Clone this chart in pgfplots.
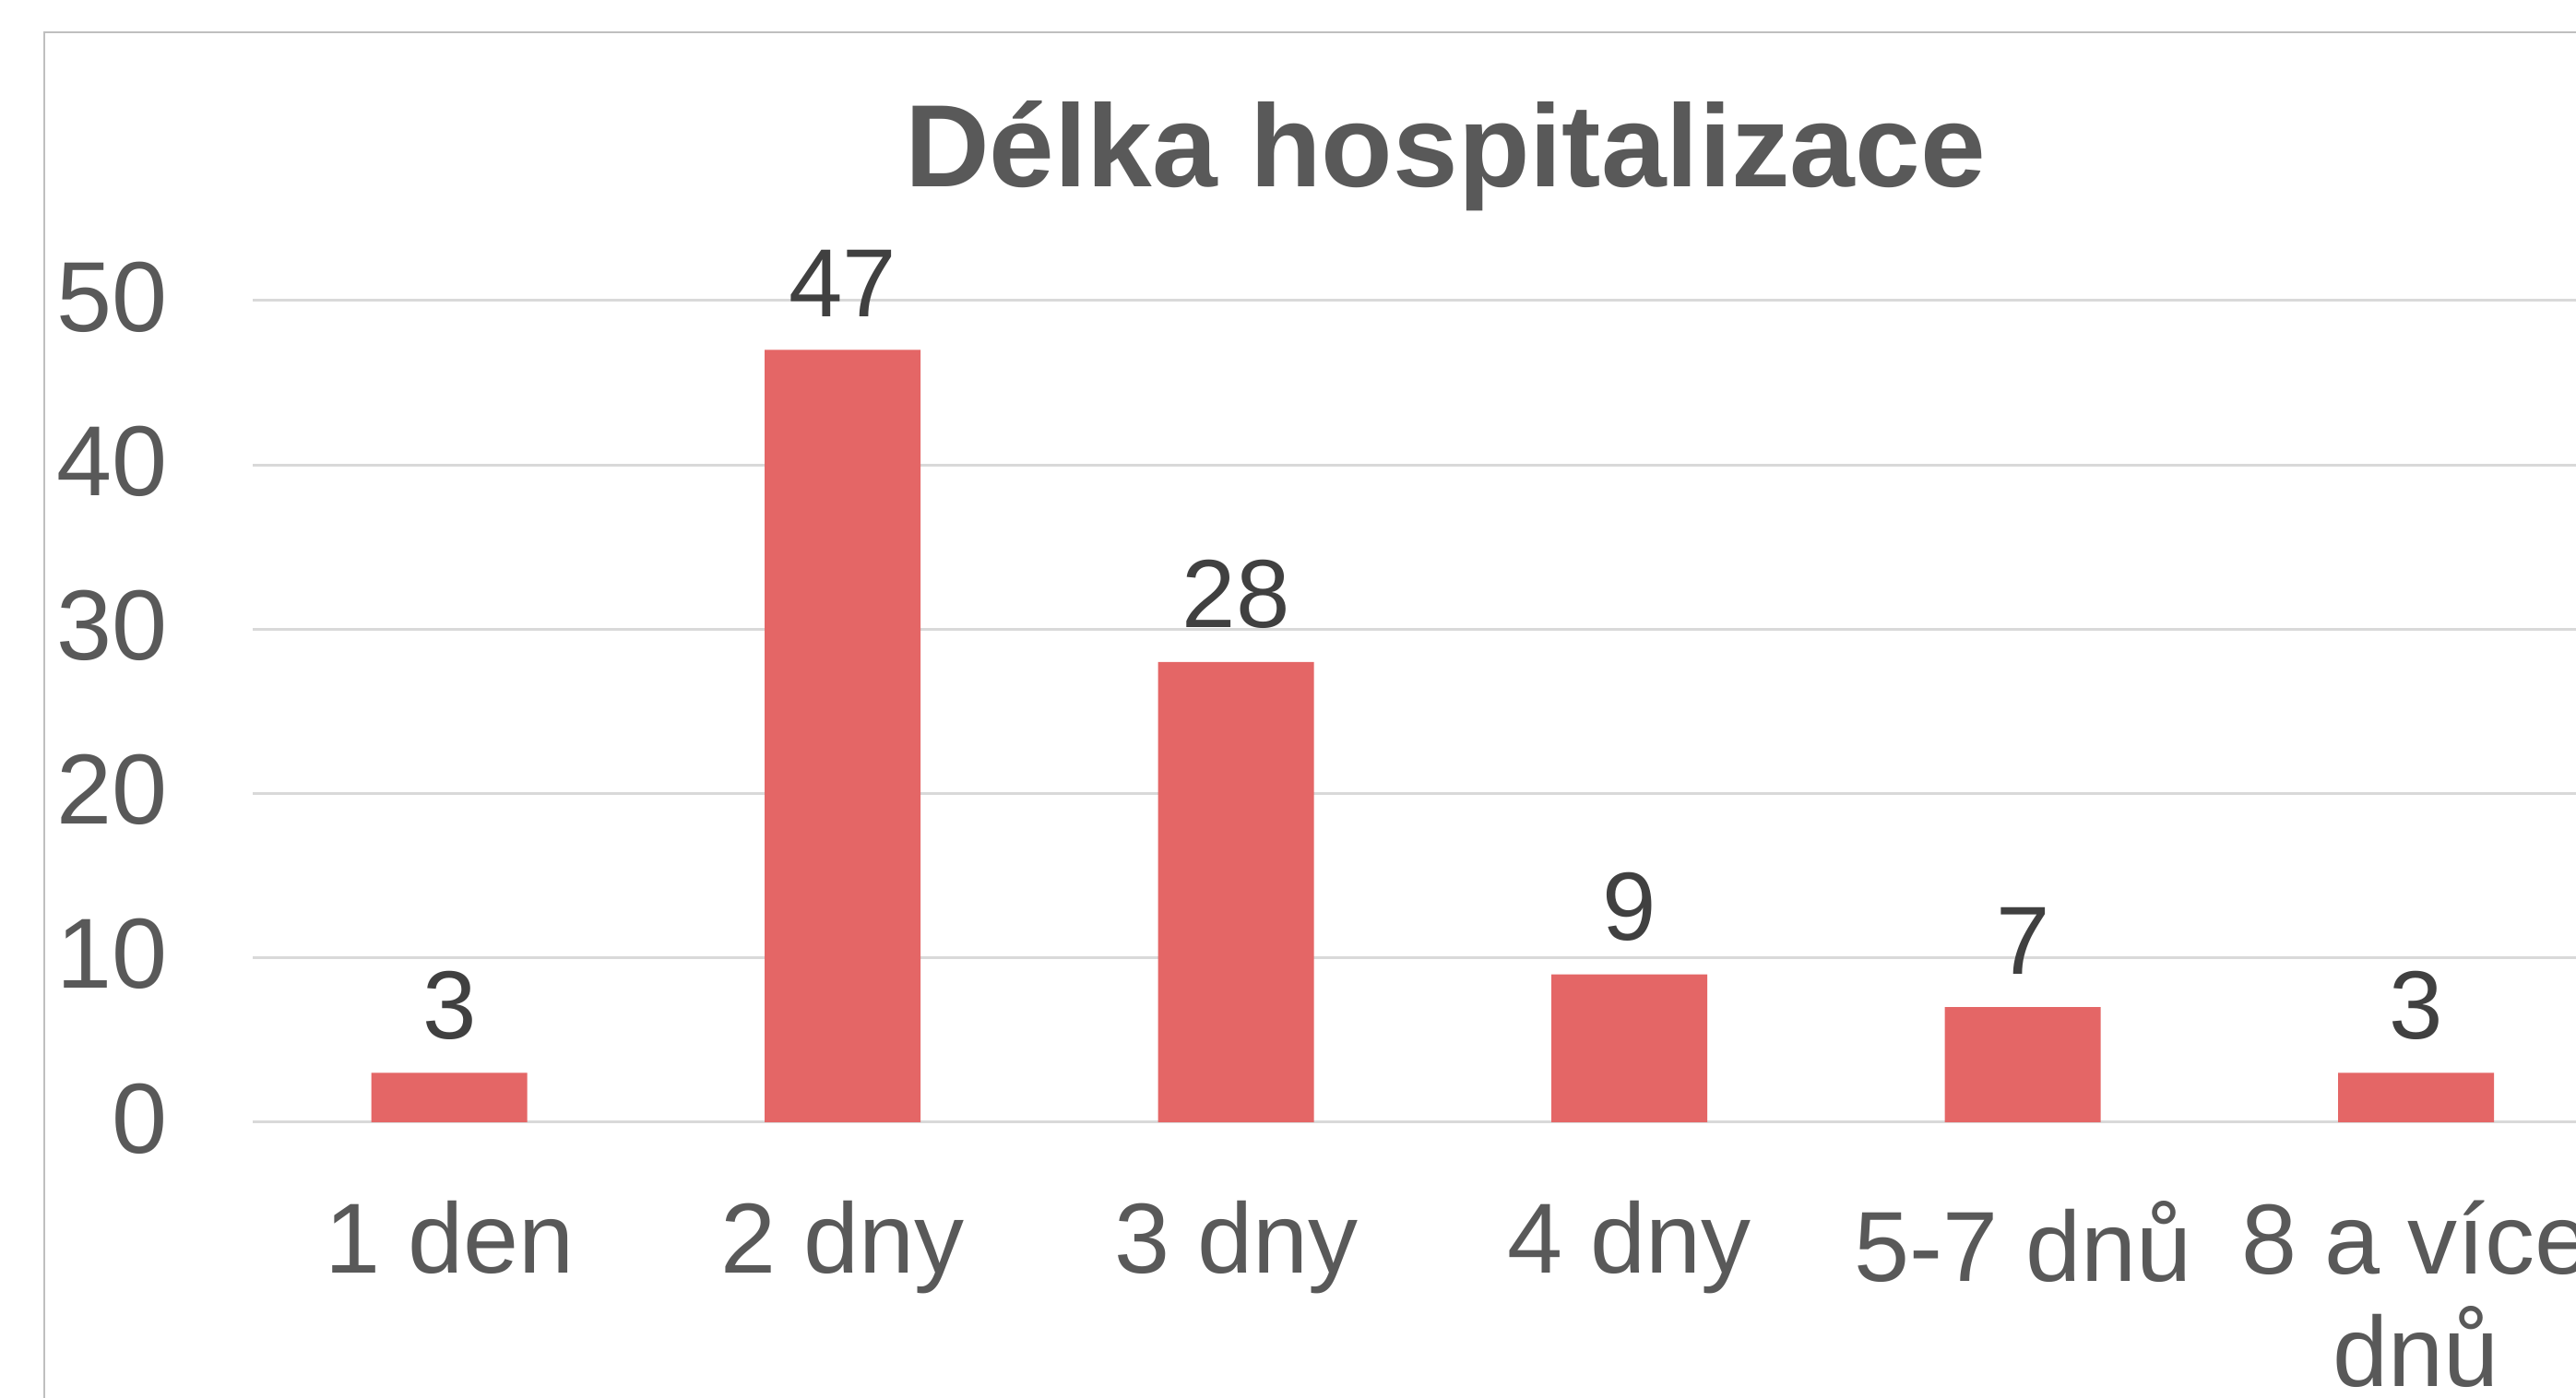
\documentclass[border=0pt]{standalone}
\usepackage{pgfplots}
\pgfplotsset{compat=1.18}
\usepackage{fontspec}
\setmainfont{Liberation Sans}
\definecolor{barred}{RGB}{228,102,102}
\definecolor{txtgray}{RGB}{89,89,89}
\definecolor{lblgray}{RGB}{64,64,64}
\definecolor{gridgray}{RGB}{217,217,217}
\definecolor{bordergray}{RGB}{191,191,191}
\begin{document}
\begin{tikzpicture}
\useasboundingbox (0,0) rectangle (279.3pt,151.6pt);
\clip (0,0) rectangle (279.3pt,151.6pt);
\draw[bordergray, line width=0.25pt] (4.8pt,-10pt) -- (4.8pt,148.1pt) -- (300pt,148.1pt);
\begin{axis}[
  at={(27.4pt,29.9pt)}, anchor=south west,
  scale only axis,
  width=255.9pt, height=89.1pt,
  xmin=-0.5, xmax=5.5,
  ymin=0, ymax=50,
  axis line style={draw=none},
  major tick style={draw=none},
  ytick={0,10,20,30,40,50},
  xtick={0,1,2,3,4,5},
  xticklabels={1 den,2 dny,3 dny,4 dny,5-7 dnů,{8 a více\\dnů}},
  ymajorgrids,
  grid style={gridgray, line width=0.3pt},
  clip=false,
  /pgf/number format/assume math mode=true,
  ticklabel style={text=txtgray, font=\fontsize{10.8}{12.2}\selectfont},
  yticklabel style={anchor=east, inner sep=0pt, xshift=-9.0pt, yshift=0.4pt},
  xticklabel style={anchor=north, inner sep=0pt, yshift=-8.3pt, align=center},
  title={Délka hospitalizace},
  every axis title/.style={at={(0.5053,1)}, anchor=base, yshift=12.3pt, inner sep=0pt,
    font=\fontsize{12.7}{15}\selectfont\bfseries, text=txtgray},
  nodes near coords,
  every node near coord/.append style={text=lblgray, font=\fontsize{10.5}{12}\selectfont, anchor=south, inner sep=0pt, yshift=3.4pt},
]
\addplot[ybar, bar width=16.9pt, fill=barred, draw=none] coordinates {
  (0,3) (1,47) (2,28) (3,9) (4,7) (5,3)
};
\end{axis}
\end{tikzpicture}
\end{document}
